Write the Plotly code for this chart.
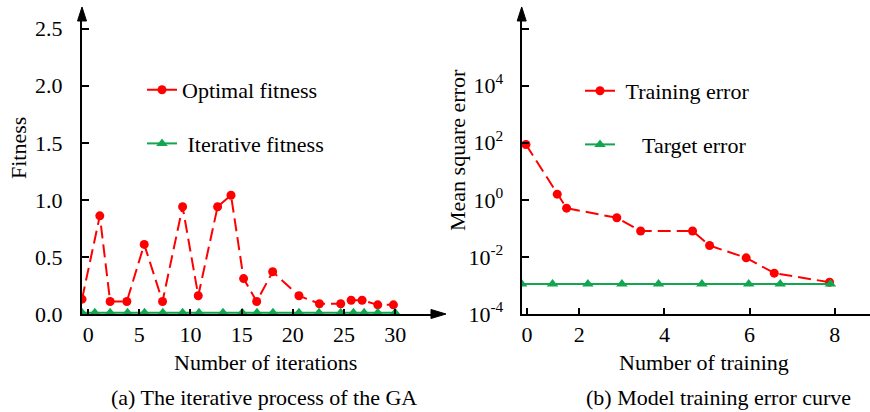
import plotly.graph_objects as go

# ---------------- data ----------------
# (a) GA iterations
opt_x = [-0.6, 1.14, 2.15, 3.78, 5.48, 7.27, 9.23, 10.76, 12.65, 13.96, 15.19, 16.47,
         18.03, 20.6, 22.6, 24.68, 25.7, 26.77, 28.3, 29.83]
opt_y = [0.13, 0.86, 0.11, 0.11, 0.61, 0.11, 0.94, 0.16, 0.94, 1.04, 0.31, 0.11,
         0.37, 0.16, 0.09, 0.09, 0.12, 0.12, 0.08, 0.08]
iter_x = [-0.6, 0.65, 2.15, 3.85, 5.51, 7.3, 9.23, 10.83, 13.18, 15.06, 16.5, 18.06,
          20.6, 22.56, 24.68, 25.92, 26.97, 28.3, 30.0]
iter_y = [0.012] * len(iter_x)
fit_ticks = [0.0, 0.5, 1.0, 1.5, 2.0, 2.5]
iter_ticks = [0, 5, 10, 15, 20, 25, 30]

# (b) training error
train_x = [0.745, 1.48, 1.70, 2.88, 3.44, 4.66, 5.06, 5.92, 6.58, 7.88]
train_y = [87, 1.58, 0.51, 0.235, 0.081, 0.081, 0.025, 0.0093, 0.0027, 0.0013]
target_x = [0.645, 1.37, 2.20, 3.0, 3.86, 4.88, 5.98, 6.72, 7.9]
target_y = [0.00113] * len(target_x)
mse_tickvals = [1e-4, 1e-2, 1e0, 1e2, 1e4, 1e6]
mse_ticktext = ["10<sup>-4</sup>", "10<sup>-2</sup>", "10<sup>0</sup>", "10<sup>2</sup>", "10<sup>4</sup>", ""]
train_tickvals = [0.77, 2, 4, 6, 8]
train_ticktext = ["0", "2", "4", "6", "8"]

# ---------------- style ----------------
W, H = 870, 412
FONT = "Liberation Serif"
RED = "#FF0000"
GREEN = "#12A650"
FS = 22

def px(x):
    return x / W

def py(y):
    return (H - y) / H

fig = go.Figure()

fig.add_trace(go.Scatter(
    x=opt_x, y=opt_y, mode="lines+markers", name="Optimal fitness",
    line=dict(color=RED, width=2, dash="13px,6px"),
    marker=dict(color=RED, size=9, symbol="circle"),
    xaxis="x", yaxis="y", legend="legend", legendgroup="a1"))
fig.add_trace(go.Scatter(
    x=iter_x, y=iter_y, mode="lines+markers", name="&nbsp;Iterative fitness",
    line=dict(color=GREEN, width=2),
    marker=dict(color=GREEN, size=10, symbol="triangle-up"),
    xaxis="x", yaxis="y", legend="legend", legendgroup="a2"))

fig.add_trace(go.Scatter(
    x=train_x, y=train_y, mode="lines+markers", name="&nbsp;Training error",
    line=dict(color=RED, width=2, dash="13px,6px"),
    marker=dict(color=RED, size=9, symbol="circle"),
    xaxis="x2", yaxis="y2", legend="legend2", legendgroup="b1"))
fig.add_trace(go.Scatter(
    x=target_x, y=target_y, mode="lines+markers", name="&nbsp;&nbsp;&nbsp;&nbsp;Target error",
    line=dict(color=GREEN, width=2),
    marker=dict(color=GREEN, size=10, symbol="triangle-up"),
    xaxis="x2", yaxis="y2", legend="legend2", legendgroup="b2"))

ydom = [py(314), py(20)]
axis_common = dict(showline=True, linecolor="black", linewidth=2, showgrid=False,
                   zeroline=False, ticks="inside", tickcolor="black", tickwidth=1.5,
                   automargin=False,
                   tickfont=dict(family=FONT, size=FS, color="black"))

fig.update_layout(
    width=W, height=H, autosize=False,
    margin=dict(l=0, r=0, t=0, b=0, pad=0),
    paper_bgcolor="white", plot_bgcolor="white",
    font=dict(family=FONT, size=FS, color="black"),
    xaxis=dict(domain=[px(82), px(432)], range=[-0.6, 33.6], tickvals=iter_ticks,
               ticklen=5, ticklabelstandoff=0, anchor="y", **axis_common),
    yaxis=dict(domain=ydom, range=[0, 2.576], tickvals=fit_ticks, tickformat=".1f",
               ticklen=7, ticklabelstandoff=13, anchor="x", **axis_common),
    xaxis2=dict(domain=[px(521.7), 1.0], range=[0.645, 8.83], tickvals=train_tickvals,
                ticktext=train_ticktext, ticklen=6, ticklabelstandoff=0, anchor="y2",
                **axis_common),
    yaxis2=dict(domain=ydom, type="log", range=[-4, 6.30], tickvals=mse_tickvals,
                ticktext=mse_ticktext, ticklen=7, ticklabelstandoff=12, anchor="x2",
                **axis_common),
    legend=dict(x=px(142), y=py(69), xanchor="left", yanchor="top",
                bgcolor="rgba(0,0,0,0)", font=dict(family=FONT, size=FS),
                traceorder="grouped", tracegroupgap=22),
    legend2=dict(x=px(580), y=py(70), xanchor="left", yanchor="top",
                 bgcolor="rgba(0,0,0,0)", font=dict(family=FONT, size=FS),
                 traceorder="grouped", tracegroupgap=22),
    showlegend=True,
)

# axis titles and captions
annos = [
    dict(text="Fitness", x=px(19), y=py(148), textangle=-90),
    dict(text="Mean square error", x=px(458), y=py(150), textangle=-90),
    dict(text="Number of iterations", x=px(265), y=py(362)),
    dict(text="Number of training", x=px(704), y=py(362)),
    dict(text="(a) The iterative process of the GA", x=px(264), y=py(397)),
    dict(text="(b) Model training error curve", x=px(718), y=py(397)),
]
for a in annos:
    fig.add_annotation(xref="paper", yref="paper", showarrow=False,
                       xanchor="center", yanchor="middle",
                       font=dict(family=FONT, size=FS, color="black"), **a)

# arrowheads on axes
def tri(pts):
    s = "M " + " L ".join(f"{px(x):.5f},{py(y):.5f}" for x, y in pts) + " Z"
    return s

arrow_paths = [
    tri([(82, 7), (77.5, 21), (86.5, 21)]),        # left y
    tri([(521.7, 7), (517.2, 21), (526.2, 21)]),   # right y
    tri([(446, 314), (431, 309.5), (431, 318.5)]),  # left x
]
for p in arrow_paths:
    fig.add_shape(type="path", path=p, xref="paper", yref="paper",
                  fillcolor="black", line=dict(color="black", width=1))

fig.write_html("out.html", config={"displayModeBar": False},
               post_script="document.body.style.margin='0';document.body.style.overflow='hidden';")
